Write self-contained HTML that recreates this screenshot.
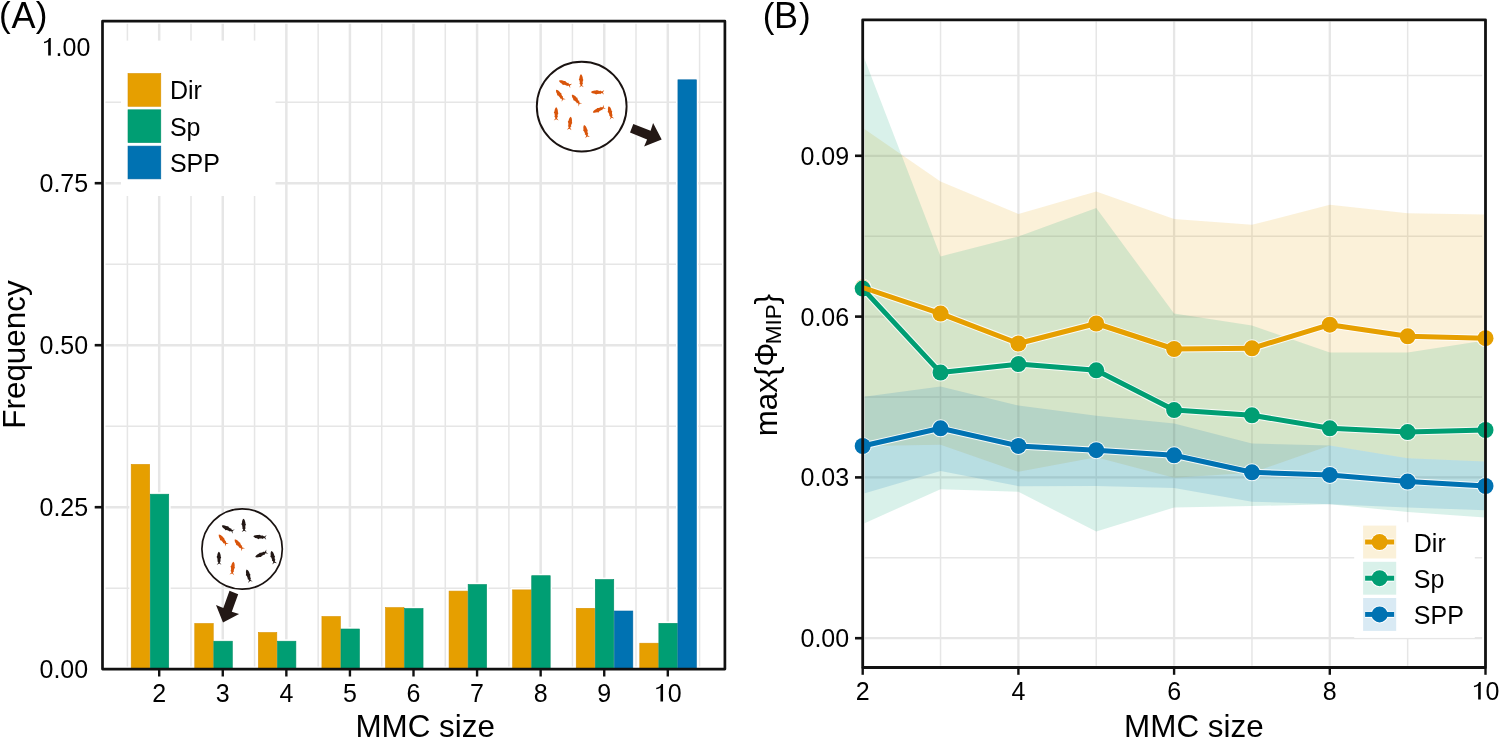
<!DOCTYPE html><html><head><meta charset="utf-8"><style>*{margin:0;padding:0}html,body{width:1500px;height:739px;overflow:hidden;background:#fff}
svg{display:block;will-change:transform}
text{font-family:"Liberation Sans",sans-serif;fill:#000}
.t25{font-size:25px}.t31{font-size:31.4px}.t32{font-size:32px}.t35{font-size:35px}.t36{font-size:36px}.t22{font-size:22.5px}</style></head><body><svg width="1500" height="739" viewBox="0 0 1500 739">
<rect width="1500" height="739" fill="#fff"/>
<defs><clipPath id="cl"><rect x="105.5" y="23.8" width="616.5" height="642.7"/></clipPath><clipPath id="cr"><rect x="864.6" y="21.6" width="617.6" height="644.2"/></clipPath><clipPath id="crr"><rect x="864.6" y="21.6" width="619.6" height="644.2"/></clipPath></defs>
<g clip-path="url(#cl)" fill="none" stroke="#E6E6E6">
<line x1="127.41" y1="0" x2="127.41" y2="739" stroke-width="1.5"/>
<line x1="190.99" y1="0" x2="190.99" y2="739" stroke-width="1.5"/>
<line x1="254.56" y1="0" x2="254.56" y2="739" stroke-width="1.5"/>
<line x1="318.14" y1="0" x2="318.14" y2="739" stroke-width="1.5"/>
<line x1="381.72" y1="0" x2="381.72" y2="739" stroke-width="1.5"/>
<line x1="445.29" y1="0" x2="445.29" y2="739" stroke-width="1.5"/>
<line x1="508.87" y1="0" x2="508.87" y2="739" stroke-width="1.5"/>
<line x1="572.44" y1="0" x2="572.44" y2="739" stroke-width="1.5"/>
<line x1="636.01" y1="0" x2="636.01" y2="739" stroke-width="1.5"/>
<line x1="699.59" y1="0" x2="699.59" y2="739" stroke-width="1.5"/>
<line x1="0" y1="588.20" x2="1500" y2="588.20" stroke-width="1.5"/>
<line x1="0" y1="426.20" x2="1500" y2="426.20" stroke-width="1.5"/>
<line x1="0" y1="264.20" x2="1500" y2="264.20" stroke-width="1.5"/>
<line x1="0" y1="102.20" x2="1500" y2="102.20" stroke-width="1.5"/>
<line x1="159.20" y1="0" x2="159.20" y2="739" stroke-width="2.5"/>
<line x1="222.77" y1="0" x2="222.77" y2="739" stroke-width="2.5"/>
<line x1="286.35" y1="0" x2="286.35" y2="739" stroke-width="2.5"/>
<line x1="349.93" y1="0" x2="349.93" y2="739" stroke-width="2.5"/>
<line x1="413.50" y1="0" x2="413.50" y2="739" stroke-width="2.5"/>
<line x1="477.07" y1="0" x2="477.07" y2="739" stroke-width="2.5"/>
<line x1="540.65" y1="0" x2="540.65" y2="739" stroke-width="2.5"/>
<line x1="604.23" y1="0" x2="604.23" y2="739" stroke-width="2.5"/>
<line x1="667.80" y1="0" x2="667.80" y2="739" stroke-width="2.5"/>
<line x1="0" y1="507.20" x2="1500" y2="507.20" stroke-width="2.5"/>
<line x1="0" y1="345.20" x2="1500" y2="345.20" stroke-width="2.5"/>
<line x1="0" y1="183.20" x2="1500" y2="183.20" stroke-width="2.5"/>
</g>
<rect x="129.30" y="462.50" width="22.27" height="206.70" fill="#fff"/>
<rect x="148.37" y="492.30" width="22.27" height="176.90" fill="#fff"/>
<rect x="192.87" y="621.60" width="22.27" height="47.60" fill="#fff"/>
<rect x="211.94" y="639.30" width="22.27" height="29.90" fill="#fff"/>
<rect x="256.45" y="630.60" width="22.27" height="38.60" fill="#fff"/>
<rect x="275.52" y="639.30" width="22.27" height="29.90" fill="#fff"/>
<rect x="320.02" y="614.60" width="22.27" height="54.60" fill="#fff"/>
<rect x="339.09" y="627.10" width="22.27" height="42.10" fill="#fff"/>
<rect x="383.60" y="605.70" width="22.27" height="63.50" fill="#fff"/>
<rect x="402.67" y="606.60" width="22.27" height="62.60" fill="#fff"/>
<rect x="447.17" y="589.20" width="22.27" height="80.00" fill="#fff"/>
<rect x="466.24" y="582.60" width="22.27" height="86.60" fill="#fff"/>
<rect x="510.75" y="588.00" width="22.27" height="81.20" fill="#fff"/>
<rect x="529.82" y="573.80" width="22.27" height="95.40" fill="#fff"/>
<rect x="574.33" y="606.40" width="22.27" height="62.80" fill="#fff"/>
<rect x="593.39" y="577.60" width="22.27" height="91.60" fill="#fff"/>
<rect x="612.46" y="609.10" width="22.27" height="60.10" fill="#fff"/>
<rect x="637.90" y="641.30" width="22.27" height="27.90" fill="#fff"/>
<rect x="656.97" y="621.40" width="22.27" height="47.80" fill="#fff"/>
<rect x="676.03" y="77.90" width="22.27" height="591.30" fill="#fff"/>
<rect x="131.20" y="464.40" width="18.47" height="205.10" fill="#E69F00" stroke="#D99200" stroke-width="0.6"/>
<rect x="150.27" y="494.20" width="18.47" height="175.30" fill="#009E73" stroke="#008F66" stroke-width="0.6"/>
<rect x="194.77" y="623.50" width="18.47" height="46.00" fill="#E69F00" stroke="#D99200" stroke-width="0.6"/>
<rect x="213.84" y="641.20" width="18.47" height="28.30" fill="#009E73" stroke="#008F66" stroke-width="0.6"/>
<rect x="258.35" y="632.50" width="18.47" height="37.00" fill="#E69F00" stroke="#D99200" stroke-width="0.6"/>
<rect x="277.42" y="641.20" width="18.47" height="28.30" fill="#009E73" stroke="#008F66" stroke-width="0.6"/>
<rect x="321.93" y="616.50" width="18.47" height="53.00" fill="#E69F00" stroke="#D99200" stroke-width="0.6"/>
<rect x="340.99" y="629.00" width="18.47" height="40.50" fill="#009E73" stroke="#008F66" stroke-width="0.6"/>
<rect x="385.50" y="607.60" width="18.47" height="61.90" fill="#E69F00" stroke="#D99200" stroke-width="0.6"/>
<rect x="404.57" y="608.50" width="18.47" height="61.00" fill="#009E73" stroke="#008F66" stroke-width="0.6"/>
<rect x="449.07" y="591.10" width="18.47" height="78.40" fill="#E69F00" stroke="#D99200" stroke-width="0.6"/>
<rect x="468.14" y="584.50" width="18.47" height="85.00" fill="#009E73" stroke="#008F66" stroke-width="0.6"/>
<rect x="512.65" y="589.90" width="18.47" height="79.60" fill="#E69F00" stroke="#D99200" stroke-width="0.6"/>
<rect x="531.72" y="575.70" width="18.47" height="93.80" fill="#009E73" stroke="#008F66" stroke-width="0.6"/>
<rect x="576.23" y="608.30" width="18.47" height="61.20" fill="#E69F00" stroke="#D99200" stroke-width="0.6"/>
<rect x="595.29" y="579.50" width="18.47" height="90.00" fill="#009E73" stroke="#008F66" stroke-width="0.6"/>
<rect x="614.36" y="611.00" width="18.47" height="58.50" fill="#0072B2" stroke="#0066A3" stroke-width="0.6"/>
<rect x="639.80" y="643.20" width="18.47" height="26.30" fill="#E69F00" stroke="#D99200" stroke-width="0.6"/>
<rect x="658.87" y="623.30" width="18.47" height="46.20" fill="#009E73" stroke="#008F66" stroke-width="0.6"/>
<rect x="677.93" y="79.80" width="18.47" height="589.70" fill="#0072B2" stroke="#0066A3" stroke-width="0.6"/>
<rect x="121" y="40.6" width="154.5" height="155.4" fill="#fff"/>
<rect x="128.0" y="73.50" width="32.8" height="32.8" fill="#E69F00" stroke="#D99200" stroke-width="0.6"/>
<text x="169.9" y="99.40" class="t25">Dir</text>
<rect x="128.0" y="109.80" width="32.8" height="32.8" fill="#009E73" stroke="#008F66" stroke-width="0.6"/>
<text x="169.9" y="135.70" class="t25">Sp</text>
<rect x="128.0" y="146.10" width="32.8" height="32.8" fill="#0072B2" stroke="#0066A3" stroke-width="0.6"/>
<text x="169.9" y="172.00" class="t25">SPP</text>
<circle cx="242.1" cy="549" r="40.2" fill="#fff" stroke="#1a1311" stroke-width="1.7"/>
<path d="M6.5,0 C5.9,-0.9 4.6,-1.5 2.6,-1.7 L1.3,-2.4 L0.2,-1.7 L-2.3,-1.4 L-2.9,-1.9 L-3.4,-1.2 L-4.5,-0.75 L-6.7,-2.4 L-5.4,0 L-6.7,2.4 L-4.5,0.75 L-3.4,1.2 L-2.9,1.8 L-2.3,1.3 L-0.4,1.6 L0.6,2.2 L1.6,1.7 L2.6,1.7 C4.6,1.5 5.9,0.9 6.5,0 Z" fill="#231815" transform="translate(227.7,528.6) rotate(-153.6) scale(1.00)"/>
<path d="M6.5,0 C5.9,-0.9 4.6,-1.5 2.6,-1.7 L1.3,-2.4 L0.2,-1.7 L-2.3,-1.4 L-2.9,-1.9 L-3.4,-1.2 L-4.5,-0.75 L-6.7,-2.4 L-5.4,0 L-6.7,2.4 L-4.5,0.75 L-3.4,1.2 L-2.9,1.8 L-2.3,1.3 L-0.4,1.6 L0.6,2.2 L1.6,1.7 L2.6,1.7 C4.6,1.5 5.9,0.9 6.5,0 Z" fill="#231815" transform="translate(243.8,525.3) rotate(-93) scale(1.00)"/>
<path d="M6.5,0 C5.9,-0.9 4.6,-1.5 2.6,-1.7 L1.3,-2.4 L0.2,-1.7 L-2.3,-1.4 L-2.9,-1.9 L-3.4,-1.2 L-4.5,-0.75 L-6.7,-2.4 L-5.4,0 L-6.7,2.4 L-4.5,0.75 L-3.4,1.2 L-2.9,1.8 L-2.3,1.3 L-0.4,1.6 L0.6,2.2 L1.6,1.7 L2.6,1.7 C4.6,1.5 5.9,0.9 6.5,0 Z" fill="#231815" transform="translate(259.8,536.9) rotate(-175) scale(1.00)"/>
<path d="M6.5,0 C5.9,-0.9 4.6,-1.5 2.6,-1.7 L1.3,-2.4 L0.2,-1.7 L-2.3,-1.4 L-2.9,-1.9 L-3.4,-1.2 L-4.5,-0.75 L-6.7,-2.4 L-5.4,0 L-6.7,2.4 L-4.5,0.75 L-3.4,1.2 L-2.9,1.8 L-2.3,1.3 L-0.4,1.6 L0.6,2.2 L1.6,1.7 L2.6,1.7 C4.6,1.5 5.9,0.9 6.5,0 Z" fill="#D9540A" transform="translate(222.8,539.7) rotate(-127.5) scale(1.00)"/>
<path d="M6.5,0 C5.9,-0.9 4.6,-1.5 2.6,-1.7 L1.3,-2.4 L0.2,-1.7 L-2.3,-1.4 L-2.9,-1.9 L-3.4,-1.2 L-4.5,-0.75 L-6.7,-2.4 L-5.4,0 L-6.7,2.4 L-4.5,0.75 L-3.4,1.2 L-2.9,1.8 L-2.3,1.3 L-0.4,1.6 L0.6,2.2 L1.6,1.7 L2.6,1.7 C4.6,1.5 5.9,0.9 6.5,0 Z" fill="#D9540A" transform="translate(238.9,544.5) rotate(-129.6) scale(1.00)"/>
<path d="M6.5,0 C5.9,-0.9 4.6,-1.5 2.6,-1.7 L1.3,-2.4 L0.2,-1.7 L-2.3,-1.4 L-2.9,-1.9 L-3.4,-1.2 L-4.5,-0.75 L-6.7,-2.4 L-5.4,0 L-6.7,2.4 L-4.5,0.75 L-3.4,1.2 L-2.9,1.8 L-2.3,1.3 L-0.4,1.6 L0.6,2.2 L1.6,1.7 L2.6,1.7 C4.6,1.5 5.9,0.9 6.5,0 Z" fill="#231815" transform="translate(261.2,554.4) rotate(155.5) scale(1.00)"/>
<path d="M6.5,0 C5.9,-0.9 4.6,-1.5 2.6,-1.7 L1.3,-2.4 L0.2,-1.7 L-2.3,-1.4 L-2.9,-1.9 L-3.4,-1.2 L-4.5,-0.75 L-6.7,-2.4 L-5.4,0 L-6.7,2.4 L-4.5,0.75 L-3.4,1.2 L-2.9,1.8 L-2.3,1.3 L-0.4,1.6 L0.6,2.2 L1.6,1.7 L2.6,1.7 C4.6,1.5 5.9,0.9 6.5,0 Z" fill="#231815" transform="translate(273.0,557.4) rotate(-104) scale(1.00)"/>
<path d="M6.5,0 C5.9,-0.9 4.6,-1.5 2.6,-1.7 L1.3,-2.4 L0.2,-1.7 L-2.3,-1.4 L-2.9,-1.9 L-3.4,-1.2 L-4.5,-0.75 L-6.7,-2.4 L-5.4,0 L-6.7,2.4 L-4.5,0.75 L-3.4,1.2 L-2.9,1.8 L-2.3,1.3 L-0.4,1.6 L0.6,2.2 L1.6,1.7 L2.6,1.7 C4.6,1.5 5.9,0.9 6.5,0 Z" fill="#231815" transform="translate(219.0,558.2) rotate(-91) scale(1.00)"/>
<path d="M6.5,0 C5.9,-0.9 4.6,-1.5 2.6,-1.7 L1.3,-2.4 L0.2,-1.7 L-2.3,-1.4 L-2.9,-1.9 L-3.4,-1.2 L-4.5,-0.75 L-6.7,-2.4 L-5.4,0 L-6.7,2.4 L-4.5,0.75 L-3.4,1.2 L-2.9,1.8 L-2.3,1.3 L-0.4,1.6 L0.6,2.2 L1.6,1.7 L2.6,1.7 C4.6,1.5 5.9,0.9 6.5,0 Z" fill="#D9540A" transform="translate(232.7,568.2) rotate(-83) scale(1.00)"/>
<path d="M6.5,0 C5.9,-0.9 4.6,-1.5 2.6,-1.7 L1.3,-2.4 L0.2,-1.7 L-2.3,-1.4 L-2.9,-1.9 L-3.4,-1.2 L-4.5,-0.75 L-6.7,-2.4 L-5.4,0 L-6.7,2.4 L-4.5,0.75 L-3.4,1.2 L-2.9,1.8 L-2.3,1.3 L-0.4,1.6 L0.6,2.2 L1.6,1.7 L2.6,1.7 C4.6,1.5 5.9,0.9 6.5,0 Z" fill="#231815" transform="translate(248.5,575.8) rotate(-106.5) scale(1.00)"/>
<polygon points="229.5,590.8 238.2,594.3 231.8,611.7 239.1,614.1 223.0,622.5 216.0,605.1 223.3,608.0" fill="#231815"/>
<circle cx="581.7" cy="106.6" r="44.9" fill="#fff" stroke="#1a1311" stroke-width="1.9"/>
<path d="M6.5,0 C5.9,-0.9 4.6,-1.5 2.6,-1.7 L1.3,-2.4 L0.2,-1.7 L-2.3,-1.4 L-2.9,-1.9 L-3.4,-1.2 L-4.5,-0.75 L-6.7,-2.4 L-5.4,0 L-6.7,2.4 L-4.5,0.75 L-3.4,1.2 L-2.9,1.8 L-2.3,1.3 L-0.4,1.6 L0.6,2.2 L1.6,1.7 L2.6,1.7 C4.6,1.5 5.9,0.9 6.5,0 Z" fill="#D9540A" transform="translate(565.0,83.3) rotate(-157) scale(1.00)"/>
<path d="M6.5,0 C5.9,-0.9 4.6,-1.5 2.6,-1.7 L1.3,-2.4 L0.2,-1.7 L-2.3,-1.4 L-2.9,-1.9 L-3.4,-1.2 L-4.5,-0.75 L-6.7,-2.4 L-5.4,0 L-6.7,2.4 L-4.5,0.75 L-3.4,1.2 L-2.9,1.8 L-2.3,1.3 L-0.4,1.6 L0.6,2.2 L1.6,1.7 L2.6,1.7 C4.6,1.5 5.9,0.9 6.5,0 Z" fill="#D9540A" transform="translate(581.2,80.7) rotate(-92) scale(1.00)"/>
<path d="M6.5,0 C5.9,-0.9 4.6,-1.5 2.6,-1.7 L1.3,-2.4 L0.2,-1.7 L-2.3,-1.4 L-2.9,-1.9 L-3.4,-1.2 L-4.5,-0.75 L-6.7,-2.4 L-5.4,0 L-6.7,2.4 L-4.5,0.75 L-3.4,1.2 L-2.9,1.8 L-2.3,1.3 L-0.4,1.6 L0.6,2.2 L1.6,1.7 L2.6,1.7 C4.6,1.5 5.9,0.9 6.5,0 Z" fill="#D9540A" transform="translate(597.5,92.2) rotate(-178) scale(1.00)"/>
<path d="M6.5,0 C5.9,-0.9 4.6,-1.5 2.6,-1.7 L1.3,-2.4 L0.2,-1.7 L-2.3,-1.4 L-2.9,-1.9 L-3.4,-1.2 L-4.5,-0.75 L-6.7,-2.4 L-5.4,0 L-6.7,2.4 L-4.5,0.75 L-3.4,1.2 L-2.9,1.8 L-2.3,1.3 L-0.4,1.6 L0.6,2.2 L1.6,1.7 L2.6,1.7 C4.6,1.5 5.9,0.9 6.5,0 Z" fill="#D9540A" transform="translate(559.9,95.0) rotate(-124.8) scale(1.00)"/>
<path d="M6.5,0 C5.9,-0.9 4.6,-1.5 2.6,-1.7 L1.3,-2.4 L0.2,-1.7 L-2.3,-1.4 L-2.9,-1.9 L-3.4,-1.2 L-4.5,-0.75 L-6.7,-2.4 L-5.4,0 L-6.7,2.4 L-4.5,0.75 L-3.4,1.2 L-2.9,1.8 L-2.3,1.3 L-0.4,1.6 L0.6,2.2 L1.6,1.7 L2.6,1.7 C4.6,1.5 5.9,0.9 6.5,0 Z" fill="#D9540A" transform="translate(576.1,99.7) rotate(-129.7) scale(1.00)"/>
<path d="M6.5,0 C5.9,-0.9 4.6,-1.5 2.6,-1.7 L1.3,-2.4 L0.2,-1.7 L-2.3,-1.4 L-2.9,-1.9 L-3.4,-1.2 L-4.5,-0.75 L-6.7,-2.4 L-5.4,0 L-6.7,2.4 L-4.5,0.75 L-3.4,1.2 L-2.9,1.8 L-2.3,1.3 L-0.4,1.6 L0.6,2.2 L1.6,1.7 L2.6,1.7 C4.6,1.5 5.9,0.9 6.5,0 Z" fill="#D9540A" transform="translate(598.8,109.7) rotate(155.5) scale(1.00)"/>
<path d="M6.5,0 C5.9,-0.9 4.6,-1.5 2.6,-1.7 L1.3,-2.4 L0.2,-1.7 L-2.3,-1.4 L-2.9,-1.9 L-3.4,-1.2 L-4.5,-0.75 L-6.7,-2.4 L-5.4,0 L-6.7,2.4 L-4.5,0.75 L-3.4,1.2 L-2.9,1.8 L-2.3,1.3 L-0.4,1.6 L0.6,2.2 L1.6,1.7 L2.6,1.7 C4.6,1.5 5.9,0.9 6.5,0 Z" fill="#D9540A" transform="translate(610.3,112.6) rotate(-104) scale(1.00)"/>
<path d="M6.5,0 C5.9,-0.9 4.6,-1.5 2.6,-1.7 L1.3,-2.4 L0.2,-1.7 L-2.3,-1.4 L-2.9,-1.9 L-3.4,-1.2 L-4.5,-0.75 L-6.7,-2.4 L-5.4,0 L-6.7,2.4 L-4.5,0.75 L-3.4,1.2 L-2.9,1.8 L-2.3,1.3 L-0.4,1.6 L0.6,2.2 L1.6,1.7 L2.6,1.7 C4.6,1.5 5.9,0.9 6.5,0 Z" fill="#D9540A" transform="translate(556.2,113.8) rotate(-90) scale(1.00)"/>
<path d="M6.5,0 C5.9,-0.9 4.6,-1.5 2.6,-1.7 L1.3,-2.4 L0.2,-1.7 L-2.3,-1.4 L-2.9,-1.9 L-3.4,-1.2 L-4.5,-0.75 L-6.7,-2.4 L-5.4,0 L-6.7,2.4 L-4.5,0.75 L-3.4,1.2 L-2.9,1.8 L-2.3,1.3 L-0.4,1.6 L0.6,2.2 L1.6,1.7 L2.6,1.7 C4.6,1.5 5.9,0.9 6.5,0 Z" fill="#D9540A" transform="translate(570.0,123.3) rotate(-83) scale(1.00)"/>
<path d="M6.5,0 C5.9,-0.9 4.6,-1.5 2.6,-1.7 L1.3,-2.4 L0.2,-1.7 L-2.3,-1.4 L-2.9,-1.9 L-3.4,-1.2 L-4.5,-0.75 L-6.7,-2.4 L-5.4,0 L-6.7,2.4 L-4.5,0.75 L-3.4,1.2 L-2.9,1.8 L-2.3,1.3 L-0.4,1.6 L0.6,2.2 L1.6,1.7 L2.6,1.7 C4.6,1.5 5.9,0.9 6.5,0 Z" fill="#D9540A" transform="translate(585.8,131.2) rotate(-105) scale(1.00)"/>
<polygon points="633.3,123.9 650.6,130.7 653.1,123.1 661.7,139.6 644.1,146.4 647.1,139.4 630.0,132.4" fill="#231815"/>
<rect x="102.5" y="21.2" width="622.40" height="647.90" fill="none" stroke="#111111" stroke-width="2.7" stroke-linejoin="round"/>
<line x1="94.7" y1="507.20" x2="102.50" y2="507.20" stroke="#111111" stroke-width="2.6"/>
<line x1="94.7" y1="345.20" x2="102.50" y2="345.20" stroke="#111111" stroke-width="2.6"/>
<line x1="94.7" y1="183.20" x2="102.50" y2="183.20" stroke="#111111" stroke-width="2.6"/>
<line x1="159.20" y1="669.10" x2="159.20" y2="676.5" stroke="#111111" stroke-width="2.4"/>
<line x1="222.77" y1="669.10" x2="222.77" y2="676.5" stroke="#111111" stroke-width="2.4"/>
<line x1="286.35" y1="669.10" x2="286.35" y2="676.5" stroke="#111111" stroke-width="2.4"/>
<line x1="349.93" y1="669.10" x2="349.93" y2="676.5" stroke="#111111" stroke-width="2.4"/>
<line x1="413.50" y1="669.10" x2="413.50" y2="676.5" stroke="#111111" stroke-width="2.4"/>
<line x1="477.07" y1="669.10" x2="477.07" y2="676.5" stroke="#111111" stroke-width="2.4"/>
<line x1="540.65" y1="669.10" x2="540.65" y2="676.5" stroke="#111111" stroke-width="2.4"/>
<line x1="604.23" y1="669.10" x2="604.23" y2="676.5" stroke="#111111" stroke-width="2.4"/>
<line x1="667.80" y1="669.10" x2="667.80" y2="676.5" stroke="#111111" stroke-width="2.4"/>
<text x="88.2" y="678.10" class="t25" text-anchor="end">0.00</text>
<text x="88.2" y="516.10" class="t25" text-anchor="end">0.25</text>
<text x="88.2" y="354.10" class="t25" text-anchor="end">0.50</text>
<text x="88.2" y="192.10" class="t25" text-anchor="end">0.75</text>
<path transform="translate(41.64,55.60) scale(1.000)" fill="#000" d="M9.15,0 L9.15,-17.65 L7.45,-17.65 C7.05,-16.3 6.1,-15.3 4.7,-14.6 C3.9,-14.2 3.1,-14.0 2.35,-13.9 L2.35,-12.3 C3.6,-12.4 5.3,-12.9 6.55,-13.8 L6.55,0 Z"/>
<text x="90.3" y="55.6" class="t25" text-anchor="end">.00</text>
<text x="159.20" y="701.6" class="t25" text-anchor="middle">2</text>
<text x="222.77" y="701.6" class="t25" text-anchor="middle">3</text>
<text x="286.35" y="701.6" class="t25" text-anchor="middle">4</text>
<text x="349.93" y="701.6" class="t25" text-anchor="middle">5</text>
<text x="413.50" y="701.6" class="t25" text-anchor="middle">6</text>
<text x="477.07" y="701.6" class="t25" text-anchor="middle">7</text>
<text x="540.65" y="701.6" class="t25" text-anchor="middle">8</text>
<text x="604.23" y="701.6" class="t25" text-anchor="middle">9</text>
<path transform="translate(653.90,701.60) scale(1.000)" fill="#000" d="M9.15,0 L9.15,-17.65 L7.45,-17.65 C7.05,-16.3 6.1,-15.3 4.7,-14.6 C3.9,-14.2 3.1,-14.0 2.35,-13.9 L2.35,-12.3 C3.6,-12.4 5.3,-12.9 6.55,-13.8 L6.55,0 Z"/>
<text x="667.80" y="701.6" class="t25">0</text>
<text x="355.4" y="737" class="t31">MMC size</text>
<text transform="translate(24.6,428.7) rotate(-90)" class="t31">Frequency</text>
<text x="-1.0" y="27.0" class="t35">(</text><text x="11.6" y="27.6" class="t36">A</text><text x="35.8" y="27.0" class="t35">)</text>
<g clip-path="url(#cr)" fill="none" stroke="#E6E6E6">
<line x1="940.55" y1="0" x2="940.55" y2="739" stroke-width="1.5"/>
<line x1="1096.25" y1="0" x2="1096.25" y2="739" stroke-width="1.5"/>
<line x1="1251.95" y1="0" x2="1251.95" y2="739" stroke-width="1.5"/>
<line x1="1407.65" y1="0" x2="1407.65" y2="739" stroke-width="1.5"/>
<line x1="0" y1="557.80" x2="1500" y2="557.80" stroke-width="1.5"/>
<line x1="0" y1="397.00" x2="1500" y2="397.00" stroke-width="1.5"/>
<line x1="0" y1="236.20" x2="1500" y2="236.20" stroke-width="1.5"/>
<line x1="0" y1="75.40" x2="1500" y2="75.40" stroke-width="1.5"/>
<line x1="1018.40" y1="0" x2="1018.40" y2="739" stroke-width="2.3"/>
<line x1="1174.10" y1="0" x2="1174.10" y2="739" stroke-width="2.3"/>
<line x1="1329.80" y1="0" x2="1329.80" y2="739" stroke-width="2.3"/>
<line x1="0" y1="638.20" x2="1500" y2="638.20" stroke-width="2.3"/>
<line x1="0" y1="477.40" x2="1500" y2="477.40" stroke-width="2.3"/>
<line x1="0" y1="316.60" x2="1500" y2="316.60" stroke-width="2.3"/>
<line x1="0" y1="155.80" x2="1500" y2="155.80" stroke-width="2.3"/>
</g>
<g clip-path="url(#crr)">
<polygon points="862.70,127.80 940.55,181.50 1018.40,214.00 1096.25,191.40 1174.10,218.90 1251.95,224.80 1329.80,204.80 1407.65,213.30 1485.50,214.60 1485.50,461.50 1407.65,458.20 1329.80,445.60 1251.95,472.80 1174.10,477.80 1096.25,457.20 1018.40,471.80 940.55,444.80 862.70,445.90" fill="#E69F00" fill-opacity="0.15"/>
<polygon points="862.70,54.00 940.55,256.40 1018.40,236.40 1096.25,208.10 1174.10,313.60 1251.95,325.60 1329.80,352.50 1407.65,352.50 1485.50,340.50 1485.50,517.60 1407.65,512.00 1329.80,504.20 1251.95,506.10 1174.10,507.50 1096.25,531.60 1018.40,491.80 940.55,489.20 862.70,524.00" fill="#009E73" fill-opacity="0.15"/>
<polygon points="862.70,396.90 940.55,386.50 1018.40,405.50 1096.25,415.70 1174.10,423.40 1251.95,443.50 1329.80,445.60 1407.65,458.20 1485.50,461.50 1485.50,510.30 1407.65,507.40 1329.80,504.20 1251.95,501.70 1174.10,488.00 1096.25,485.90 1018.40,486.20 940.55,471.10 862.70,493.80" fill="#0072B2" fill-opacity="0.15"/>
</g>
<polyline points="862.70,287.50 940.55,313.60 1018.40,343.50 1096.25,323.50 1174.10,349.00 1251.95,348.30 1329.80,324.70 1407.65,336.30 1485.50,338.20" fill="none" stroke="#fff" stroke-opacity="0.85" stroke-width="7.0" stroke-linejoin="round"/>
<circle cx="862.70" cy="287.50" r="9.0" fill="#fff" fill-opacity="0.85"/>
<circle cx="940.55" cy="313.60" r="9.0" fill="#fff" fill-opacity="0.85"/>
<circle cx="1018.40" cy="343.50" r="9.0" fill="#fff" fill-opacity="0.85"/>
<circle cx="1096.25" cy="323.50" r="9.0" fill="#fff" fill-opacity="0.85"/>
<circle cx="1174.10" cy="349.00" r="9.0" fill="#fff" fill-opacity="0.85"/>
<circle cx="1251.95" cy="348.30" r="9.0" fill="#fff" fill-opacity="0.85"/>
<circle cx="1329.80" cy="324.70" r="9.0" fill="#fff" fill-opacity="0.85"/>
<circle cx="1407.65" cy="336.30" r="9.0" fill="#fff" fill-opacity="0.85"/>
<circle cx="1485.50" cy="338.20" r="9.0" fill="#fff" fill-opacity="0.85"/>
<polyline points="862.70,287.50 940.55,313.60 1018.40,343.50 1096.25,323.50 1174.10,349.00 1251.95,348.30 1329.80,324.70 1407.65,336.30 1485.50,338.20" fill="none" stroke="#E69F00" stroke-width="5.0" stroke-linejoin="round"/>
<circle cx="862.70" cy="287.50" r="8.0" fill="#E69F00"/>
<circle cx="940.55" cy="313.60" r="8.0" fill="#E69F00"/>
<circle cx="1018.40" cy="343.50" r="8.0" fill="#E69F00"/>
<circle cx="1096.25" cy="323.50" r="8.0" fill="#E69F00"/>
<circle cx="1174.10" cy="349.00" r="8.0" fill="#E69F00"/>
<circle cx="1251.95" cy="348.30" r="8.0" fill="#E69F00"/>
<circle cx="1329.80" cy="324.70" r="8.0" fill="#E69F00"/>
<circle cx="1407.65" cy="336.30" r="8.0" fill="#E69F00"/>
<circle cx="1485.50" cy="338.20" r="8.0" fill="#E69F00"/>
<polyline points="862.70,288.60 940.55,372.60 1018.40,364.10 1096.25,370.30 1174.10,410.10 1251.95,415.30 1329.80,428.30 1407.65,432.10 1485.50,430.00" fill="none" stroke="#fff" stroke-opacity="0.85" stroke-width="7.0" stroke-linejoin="round"/>
<circle cx="862.70" cy="288.60" r="9.0" fill="#fff" fill-opacity="0.85"/>
<circle cx="940.55" cy="372.60" r="9.0" fill="#fff" fill-opacity="0.85"/>
<circle cx="1018.40" cy="364.10" r="9.0" fill="#fff" fill-opacity="0.85"/>
<circle cx="1096.25" cy="370.30" r="9.0" fill="#fff" fill-opacity="0.85"/>
<circle cx="1174.10" cy="410.10" r="9.0" fill="#fff" fill-opacity="0.85"/>
<circle cx="1251.95" cy="415.30" r="9.0" fill="#fff" fill-opacity="0.85"/>
<circle cx="1329.80" cy="428.30" r="9.0" fill="#fff" fill-opacity="0.85"/>
<circle cx="1407.65" cy="432.10" r="9.0" fill="#fff" fill-opacity="0.85"/>
<circle cx="1485.50" cy="430.00" r="9.0" fill="#fff" fill-opacity="0.85"/>
<polyline points="862.70,288.60 940.55,372.60 1018.40,364.10 1096.25,370.30 1174.10,410.10 1251.95,415.30 1329.80,428.30 1407.65,432.10 1485.50,430.00" fill="none" stroke="#009E73" stroke-width="5.0" stroke-linejoin="round"/>
<circle cx="862.70" cy="288.60" r="8.0" fill="#009E73"/>
<circle cx="940.55" cy="372.60" r="8.0" fill="#009E73"/>
<circle cx="1018.40" cy="364.10" r="8.0" fill="#009E73"/>
<circle cx="1096.25" cy="370.30" r="8.0" fill="#009E73"/>
<circle cx="1174.10" cy="410.10" r="8.0" fill="#009E73"/>
<circle cx="1251.95" cy="415.30" r="8.0" fill="#009E73"/>
<circle cx="1329.80" cy="428.30" r="8.0" fill="#009E73"/>
<circle cx="1407.65" cy="432.10" r="8.0" fill="#009E73"/>
<circle cx="1485.50" cy="430.00" r="8.0" fill="#009E73"/>
<polyline points="862.70,446.00 940.55,428.30 1018.40,445.90 1096.25,450.20 1174.10,455.30 1251.95,472.30 1329.80,474.90 1407.65,481.60 1485.50,486.00" fill="none" stroke="#fff" stroke-opacity="0.85" stroke-width="7.0" stroke-linejoin="round"/>
<circle cx="862.70" cy="446.00" r="9.0" fill="#fff" fill-opacity="0.85"/>
<circle cx="940.55" cy="428.30" r="9.0" fill="#fff" fill-opacity="0.85"/>
<circle cx="1018.40" cy="445.90" r="9.0" fill="#fff" fill-opacity="0.85"/>
<circle cx="1096.25" cy="450.20" r="9.0" fill="#fff" fill-opacity="0.85"/>
<circle cx="1174.10" cy="455.30" r="9.0" fill="#fff" fill-opacity="0.85"/>
<circle cx="1251.95" cy="472.30" r="9.0" fill="#fff" fill-opacity="0.85"/>
<circle cx="1329.80" cy="474.90" r="9.0" fill="#fff" fill-opacity="0.85"/>
<circle cx="1407.65" cy="481.60" r="9.0" fill="#fff" fill-opacity="0.85"/>
<circle cx="1485.50" cy="486.00" r="9.0" fill="#fff" fill-opacity="0.85"/>
<polyline points="862.70,446.00 940.55,428.30 1018.40,445.90 1096.25,450.20 1174.10,455.30 1251.95,472.30 1329.80,474.90 1407.65,481.60 1485.50,486.00" fill="none" stroke="#0072B2" stroke-width="5.0" stroke-linejoin="round"/>
<circle cx="862.70" cy="446.00" r="8.0" fill="#0072B2"/>
<circle cx="940.55" cy="428.30" r="8.0" fill="#0072B2"/>
<circle cx="1018.40" cy="445.90" r="8.0" fill="#0072B2"/>
<circle cx="1096.25" cy="450.20" r="8.0" fill="#0072B2"/>
<circle cx="1174.10" cy="455.30" r="8.0" fill="#0072B2"/>
<circle cx="1251.95" cy="472.30" r="8.0" fill="#0072B2"/>
<circle cx="1329.80" cy="474.90" r="8.0" fill="#0072B2"/>
<circle cx="1407.65" cy="481.60" r="8.0" fill="#0072B2"/>
<circle cx="1485.50" cy="486.00" r="8.0" fill="#0072B2"/>
<clipPath id="c2"><circle cx="862.70" cy="288.60" r="9.3"/></clipPath>
<line x1="862.70" y1="287.50" x2="940.55" y2="313.60" stroke="#E69F00" stroke-width="5.0" clip-path="url(#c2)"/>
<rect x="1354.2" y="522.3" width="120.6" height="115.6" fill="#fff"/>
<rect x="1363.1" y="525.60" width="33.1" height="32.9" fill="#E69F00" fill-opacity="0.15"/>
<line x1="1365.1" y1="542.00" x2="1394.1" y2="542.00" stroke="#fff" stroke-width="7.0"/>
<circle cx="1379.6" cy="542.00" r="9.0" fill="#fff"/>
<line x1="1365.1" y1="542.00" x2="1394.1" y2="542.00" stroke="#E69F00" stroke-width="5.0"/>
<circle cx="1379.6" cy="542.00" r="8.0" fill="#E69F00"/>
<text x="1413.8" y="551.50" class="t25">Dir</text>
<rect x="1363.1" y="561.80" width="33.1" height="32.9" fill="#009E73" fill-opacity="0.15"/>
<line x1="1365.1" y1="578.20" x2="1394.1" y2="578.20" stroke="#fff" stroke-width="7.0"/>
<circle cx="1379.6" cy="578.20" r="9.0" fill="#fff"/>
<line x1="1365.1" y1="578.20" x2="1394.1" y2="578.20" stroke="#009E73" stroke-width="5.0"/>
<circle cx="1379.6" cy="578.20" r="8.0" fill="#009E73"/>
<text x="1413.8" y="587.70" class="t25">Sp</text>
<rect x="1363.1" y="598.00" width="33.1" height="32.9" fill="#0072B2" fill-opacity="0.15"/>
<line x1="1365.1" y1="614.40" x2="1394.1" y2="614.40" stroke="#fff" stroke-width="7.0"/>
<circle cx="1379.6" cy="614.40" r="9.0" fill="#fff"/>
<line x1="1365.1" y1="614.40" x2="1394.1" y2="614.40" stroke="#0072B2" stroke-width="5.0"/>
<circle cx="1379.6" cy="614.40" r="8.0" fill="#0072B2"/>
<text x="1413.8" y="623.90" class="t25">SPP</text>
<rect x="862.7" y="19.8" width="622.80" height="647.70" fill="none" stroke="#111111" stroke-width="2.8" stroke-linejoin="round"/>
<line x1="855" y1="638.20" x2="862.70" y2="638.20" stroke="#111111" stroke-width="2.6"/>
<line x1="855" y1="477.40" x2="862.70" y2="477.40" stroke="#111111" stroke-width="2.6"/>
<line x1="855" y1="316.60" x2="862.70" y2="316.60" stroke="#111111" stroke-width="2.6"/>
<line x1="855" y1="155.80" x2="862.70" y2="155.80" stroke="#111111" stroke-width="2.6"/>
<line x1="862.70" y1="667.50" x2="862.70" y2="674.8" stroke="#111111" stroke-width="2.4"/>
<line x1="1018.40" y1="667.50" x2="1018.40" y2="674.8" stroke="#111111" stroke-width="2.4"/>
<line x1="1174.10" y1="667.50" x2="1174.10" y2="674.8" stroke="#111111" stroke-width="2.4"/>
<line x1="1329.80" y1="667.50" x2="1329.80" y2="674.8" stroke="#111111" stroke-width="2.4"/>
<line x1="1485.50" y1="667.50" x2="1485.50" y2="674.8" stroke="#111111" stroke-width="2.4"/>
<text x="849.2" y="647.10" class="t25" text-anchor="end">0.00</text>
<text x="849.2" y="486.30" class="t25" text-anchor="end">0.03</text>
<text x="849.2" y="325.50" class="t25" text-anchor="end">0.06</text>
<text x="849.2" y="164.70" class="t25" text-anchor="end">0.09</text>
<text x="862.70" y="699.6" class="t25" text-anchor="middle">2</text>
<text x="1018.40" y="699.6" class="t25" text-anchor="middle">4</text>
<text x="1174.10" y="699.6" class="t25" text-anchor="middle">6</text>
<text x="1329.80" y="699.6" class="t25" text-anchor="middle">8</text>
<path transform="translate(1471.60,699.60) scale(1.000)" fill="#000" d="M9.15,0 L9.15,-17.65 L7.45,-17.65 C7.05,-16.3 6.1,-15.3 4.7,-14.6 C3.9,-14.2 3.1,-14.0 2.35,-13.9 L2.35,-12.3 C3.6,-12.4 5.3,-12.9 6.55,-13.8 L6.55,0 Z"/>
<text x="1485.50" y="699.6" class="t25">0</text>
<text x="1124.1" y="736.8" class="t31">MMC size</text>
<text x="762.8" y="27.95" class="t35">(</text><text x="773.95" y="27.8" class="t36">B</text><text x="798.9" y="27.95" class="t35">)</text>
<g transform="translate(777.4,436.3) rotate(-90)"><text x="0" y="0" class="t31">max{</text><text transform="translate(69.8,0) scale(0.93,1)" x="0" y="0" class="t32">Φ</text><text x="92" y="3.9" class="t22">MIP</text><text x="131.8" y="0" class="t31">}</text></g>
</svg></body></html>
